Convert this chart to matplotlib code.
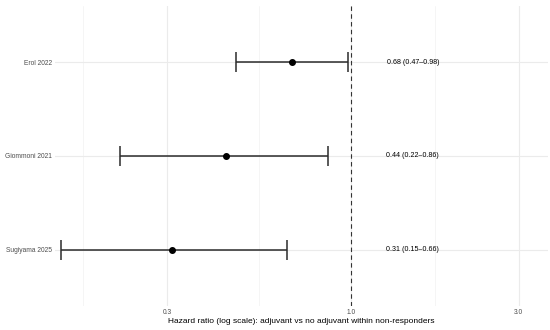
import matplotlib.pyplot as plt
from matplotlib.ticker import FixedLocator, NullFormatter

plt.rcParams['font.family'] = ['Liberation Sans', 'DejaVu Sans']

# data
studies = ["Erol 2022", "Giommoni 2021", "Sugiyama 2025"]
hr = [0.68, 0.44, 0.31]
lower = [0.47, 0.22, 0.15]
upper = [0.98, 0.86, 0.66]
labels = ["0.68 (0.47\u20130.98)", "0.44 (0.22\u20130.86)", "0.31 (0.15\u20130.66)"]
ticks = [0.3, 1.0, 3.0]
tick_labels = ["0.3", "1.0", "3.0"]

fig = plt.figure(figsize=(5.5, 3.3), dpi=100)
ax = fig.add_axes([0.1, 0.073, 0.896, 0.909])

ypos = [3, 2, 1]
err = [[h - l for h, l in zip(hr, lower)], [u - h for h, u in zip(hr, upper)]]
ax.errorbar(hr, ypos, xerr=err, fmt='o', color='black', ecolor='#2b2b2b',
            elinewidth=1.1, capsize=7, capthick=1.1, markersize=4, zorder=3)
ax.axvline(1.0, color='#333333', lw=0.8, linestyle=(0, (4, 3)), zorder=2)

for y, t in zip(ypos, labels):
    ax.text(1.5, y, t, ha='center', va='center', fontsize=5.1, color='black')

ax.set_xscale('log')
ax.set_xlim(0.144, 3.63)
ax.set_ylim(0.4, 3.6)
ax.xaxis.set_major_locator(FixedLocator(ticks))
ax.set_xticklabels(tick_labels)
ax.xaxis.set_minor_locator(FixedLocator([(0.1 * 0.3) ** 0.5, 0.3 ** 0.5, 3.0 ** 0.5]))
ax.xaxis.set_minor_formatter(NullFormatter())
ax.set_yticks(ypos)
ax.set_yticklabels(studies)

ax.grid(True, which='major', color='#ebebeb', lw=0.8)
ax.grid(True, which='minor', axis='x', color='#f2f2f2', lw=0.5)
ax.set_axisbelow(True)
for s in ax.spines.values():
    s.set_visible(False)
ax.tick_params(which='both', length=0, labelsize=4.8, labelcolor='#4d4d4d', pad=2)
ax.set_xlabel("Hazard ratio (log scale): adjuvant vs no adjuvant within non-responders",
              fontsize=6, labelpad=2)

fig.savefig("out.png", dpi=100)
